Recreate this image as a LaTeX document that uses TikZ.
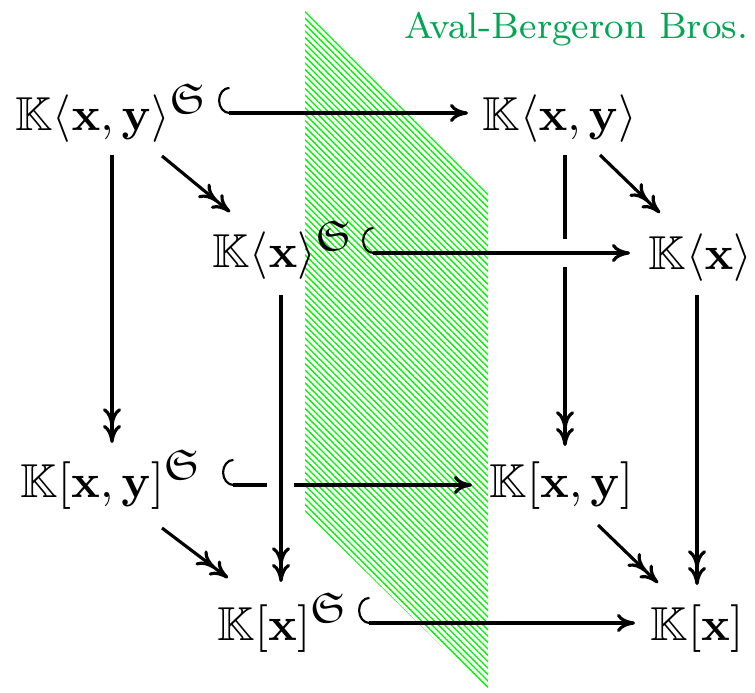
\documentclass[tikz,border=0pt]{standalone}
\usepackage{amssymb}
\usetikzlibrary{arrows.meta,patterns.meta}
\definecolor{labelgreen}{RGB}{0,166,81}
\definecolor{planegreen}{RGB}{0,245,0}
\newcommand{\supS}{^{\hbox{\fontsize{9}{9}\selectfont$\mathfrak{S}$}}}
\tikzset{
  obj/.style={inner sep=0pt, anchor=base west},
  cmtip/.tip={Computer Modern Rightarrow[length=3.8pt,width=3.8pt]},
  hooktip/.tip={Hooks[right,arc=180,length=2.4pt,width=11pt,line width=0.45pt]},
  arr/.style={line width=0.66pt},
  monoarr/.style={arr, hooktip-cmtip},
  hookonly/.style={arr, hooktip-},
  epiarr/.style={arr, -{cmtip[sep=-0.3pt]cmtip}},
  plainarr/.style={arr},
}
\begin{document}
\begin{tikzpicture}[x=0.21pt,y=-0.21pt]
\useasboundingbox (0,0) rectangle (755,692);
% plane
\fill[pattern={Lines[angle=-45,distance=0.95pt,line width=0.28pt]},pattern color=planegreen]
  (305,8) -- (488,191) -- (488,692) -- (305,512) -- cycle;
\node[anchor=base east, inner sep=0pt, font=\fontsize{7.75}{9}\selectfont, text=labelgreen] (lbl) at (749,39) {Aval-Bergeron Bros.};
% objects
\node[obj] (A1) at (15,131) {$\mathbb{K}\langle\mathbf{x},\mathbf{y}\rangle\supS$};
\node[obj] (B1) at (482,131) {$\mathbb{K}\langle\mathbf{x},\mathbf{y}\rangle$};
\node[obj] (A2) at (212,268) {$\mathbb{K}\langle\mathbf{x}\rangle\supS$};
\node[obj] (B2) at (648,270) {$\mathbb{K}\langle\mathbf{x}\rangle$};
\node[obj] (C1) at (20,497) {$\mathbb{K}[\mathbf{x},\mathbf{y}]\supS$};
\node[obj] (D1) at (489,497) {$\mathbb{K}[\mathbf{x},\mathbf{y}]$};
\node[obj] (C2) at (217,640) {$\mathbb{K}[\mathbf{x}]\supS$};
\node[obj] (D2) at (650,640) {$\mathbb{K}[\mathbf{x}]$};
% gap coordinates
\coordinate (g1a) at ([shift={(83,108)}]B1.base west);
\coordinate (g1b) at ([shift={(83,136)}]B1.base west);
\coordinate (g2a) at ([shift={(247,-12)}]C1.base west);
\coordinate (g2b) at ([shift={(274,-12)}]C1.base west);
% arrows
\draw[monoarr] ([shift={(203,-18)}]A1.base west) -- ([shift={(-14,-18)}]B1.base west);
\draw[epiarr] ([shift={(97,24)}]A1.base west) -- ([shift={(92,-54)}]C1.base west);
\draw[epiarr] ([shift={(147,25)}]A1.base west) -- ([shift={(18,-56)}]A2.base west);
\draw[epiarr] ([shift={(118,24)}]B1.base west) -- ([shift={(12,-57)}]B2.base west);
\draw[plainarr] ([shift={(83,24)}]B1.base west) -- (g1a);
\draw[epiarr] (g1b) -- ([shift={(76,-51)}]D1.base west);
\draw[monoarr] ([shift={(150,-15)}]A2.base west) -- ([shift={(-18,-17)}]B2.base west);
\draw[epiarr] ([shift={(69,27)}]A2.base west) -- ([shift={(64,-58)}]C2.base west);
\draw[epiarr] ([shift={(49,25)}]B2.base west) -- ([shift={(47,-55)}]D2.base west);
\draw[hookonly] ([shift={(202,-12)}]C1.base west) -- (g2a);
\draw[arr,-cmtip] (g2b) -- ([shift={(-17,-12)}]D1.base west);
\draw[epiarr] ([shift={(142,31)}]C1.base west) -- ([shift={(11,-62)}]C2.base west);
\draw[epiarr] ([shift={(109,28)}]D1.base west) -- ([shift={(8,-57)}]D2.base west);
\draw[monoarr] ([shift={(141,-17)}]C2.base west) -- ([shift={(-15,-17)}]D2.base west);
\end{tikzpicture}
\end{document}
